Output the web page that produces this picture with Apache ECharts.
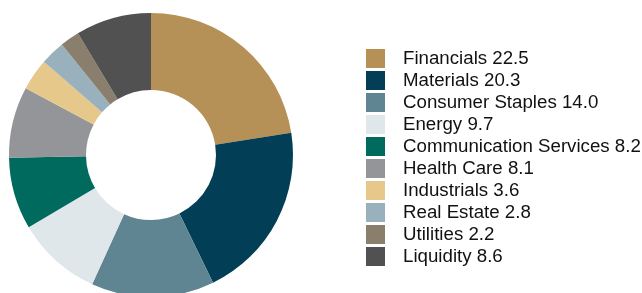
<!DOCTYPE html>
<html>
<head>
<meta charset="utf-8">
<script src="https://cdn.jsdelivr.net/npm/echarts@6/dist/echarts.min.js"></script>
<style>
  html, body { margin: 0; padding: 0; background: #fff; }
  #chart { width: 642px; height: 293px; }
</style>
</head>
<body>
<div id="chart"></div>
<script>
// sector weights, %
const sectors = ['Financials', 'Materials', 'Consumer Staples', 'Energy', 'Communication Services',
  'Health Care', 'Industrials', 'Real Estate', 'Utilities', 'Liquidity']
const weights = [22.5, 20.3, 14.0, 9.7, 8.2, 8.1, 3.6, 2.8, 2.2, 8.6]
const colors = ['#b59157', '#023f57', '#5f8593', '#dfe7ea', '#006a5f',
  '#939598', '#e5c88a', '#98b1bc', '#8a7e6d', '#515151']

const chart = echarts.init(document.getElementById('chart'))

chart.setOption({
  animation: false,
  color: colors,
  legend: {
    orient: 'vertical',
    left: 361,
    top: 44,
    itemWidth: 19,
    itemHeight: 19,
    itemGap: 3,
    icon: 'rect',
    formatter: name => name + ' ' + weights[sectors.indexOf(name)].toFixed(1),
    textStyle: {
      fontFamily: 'Liberation Sans, Arial, sans-serif',
      fontSize: 18.7,
      lineHeight: 19,
      color: '#111',
      padding: [0, 0, 0, 13]
    },
    data: sectors
  },
  series: [{
    type: 'pie',
    center: [151, 155],
    radius: [65, 142],
    startAngle: 90,
    clockwise: true,
    label: { show: false },
    labelLine: { show: false },
    emphasis: { disabled: true },
    itemStyle: { borderWidth: 0 },
    data: sectors.map((s, i) => ({ name: s, value: weights[i] }))
  }]
})
</script>
</body>
</html>
